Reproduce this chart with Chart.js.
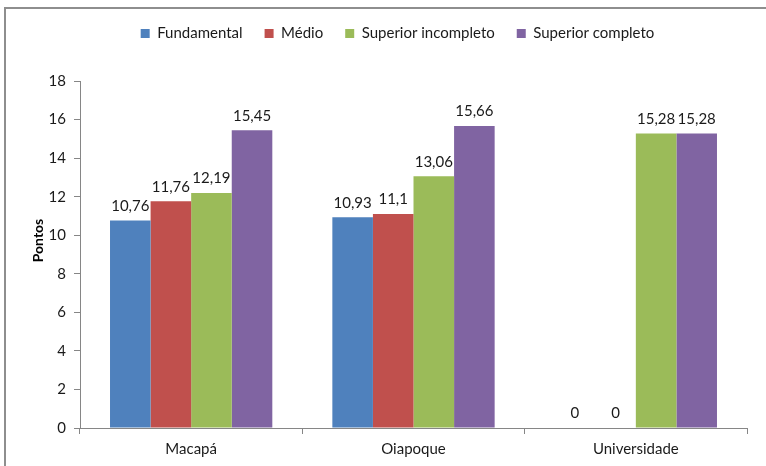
<!DOCTYPE html>
<html>
<head>
<meta charset="utf-8">
<script src="https://cdn.jsdelivr.net/npm/chart.js@4/dist/chart.umd.min.js"></script>
<style>
  html, body { margin: 0; padding: 0; background: #fff; }
  #wrap { position: relative; width: 766px; height: 466px; overflow: hidden; }
  #frame { position: absolute; left: 4px; top: 7px; width: 820px; height: 520px;
           border: 2px solid #8e8e8e; box-sizing: border-box; }
  canvas { position: absolute; left: 0; top: 0; }
</style>
</head>
<body>
<div id="wrap">
  <div id="frame"></div>
  <canvas id="chart" width="766" height="466"></canvas>
</div>
<script>
// Escolaridade por local: pontuação média
const categories = ['Macapá', 'Oiapoque', 'Universidade'];
const seriesNames = ['Fundamental', 'Médio', 'Superior incompleto', 'Superior completo'];
const fundamental = [10.76, 10.93, 0];
const medio = [11.76, 11.1, 0];
const superiorIncompleto = [12.19, 13.06, 15.28];
const superiorCompleto = [15.45, 15.66, 15.28];
const yTicks = [0, 2, 4, 6, 8, 10, 12, 14, 16, 18];

const colors = ['#4F81BD', '#C0504D', '#9BBB59', '#8064A2'];
const seriesValues = [fundamental, medio, superiorIncompleto, superiorCompleto];
const FONT = 'Lato, "Liberation Sans", sans-serif';

const fmt = v => String(v).replace('.', ',');

// Writes each bar's value above it
const valueLabels = {
  id: 'valueLabels',
  afterDatasetsDraw(chart) {
    const ctx = chart.ctx;
    ctx.save();
    ctx.font = '15px ' + FONT;
    ctx.fillStyle = '#1a1a1a';
    ctx.textAlign = 'center';
    ctx.textBaseline = 'bottom';
    chart.data.datasets.forEach((ds, i) => {
      chart.getDatasetMeta(i).data.forEach((bar, j) => {
        ctx.fillText(fmt(ds.data[j]), bar.x, bar.y - 7);
      });
    });
    ctx.restore();
  }
};

// Extra room below the legend, and the legend row nudged right
const legendSpacing = {
  id: 'legendSpacing',
  beforeInit(chart) {
    const legend = chart.legend;
    const fit = legend.fit;
    legend.fit = function () {
      fit.call(this);
      this.height += 30;
    };
    const draw = legend.draw;
    legend.draw = function () {
      const ctx = chart.ctx;
      ctx.save();
      ctx.translate(11, 0);
      draw.call(this);
      ctx.restore();
    };
  }
};

new Chart(document.getElementById('chart'), {
  type: 'bar',
  data: {
    labels: categories,
    datasets: seriesNames.map((name, i) => ({
      label: name,
      data: seriesValues[i],
      backgroundColor: colors[i],
      borderWidth: 0,
      barPercentage: 1,
      categoryPercentage: 0.73
    }))
  },
  options: {
    responsive: false,
    animation: false,
    layout: { padding: { left: 26, right: 19, top: 4, bottom: 0 } },
    plugins: {
      legend: {
        position: 'top',
        labels: {
          font: { family: FONT, size: 15 },
          color: '#1a1a1a',
          boxWidth: 9,
          boxHeight: 9,
          padding: 22
        }
      },
      tooltip: { enabled: false }
    },
    scales: {
      x: {
        grid: { display: true, drawOnChartArea: false, offset: true, color: '#868686', tickLength: 6 },
        border: { color: '#868686', width: 1 },
        ticks: { font: { family: FONT, size: 15 }, color: '#1a1a1a', padding: 6 },
        afterFit(scale) { scale.height = 38; }
      },
      y: {
        min: 0,
        max: 18,
        afterBuildTicks(scale) { scale.ticks = yTicks.map(v => ({ value: v })); },
        grid: { display: true, drawOnChartArea: false, color: '#868686', tickLength: 6 },
        border: { color: '#868686', width: 1 },
        ticks: { font: { family: FONT, size: 15 }, color: '#1a1a1a', padding: 8 },
        title: { display: true, text: 'Pontos', font: { family: FONT, size: 14, weight: 'bold' }, color: '#000', padding: 4 },
        afterFit(scale) {
          scale.width = 54;
          // axis title sits a little above the middle of the axis
          if (!scale._titleShifted) {
            const drawTitle = scale.drawTitle;
            scale.drawTitle = function () {
              const ctx = this.ctx;
              ctx.save();
              ctx.translate(0, -14);
              drawTitle.call(this);
              ctx.restore();
            };
            scale._titleShifted = true;
          }
        }
      }
    }
  },
  plugins: [valueLabels, legendSpacing]
});
</script>
</body>
</html>
